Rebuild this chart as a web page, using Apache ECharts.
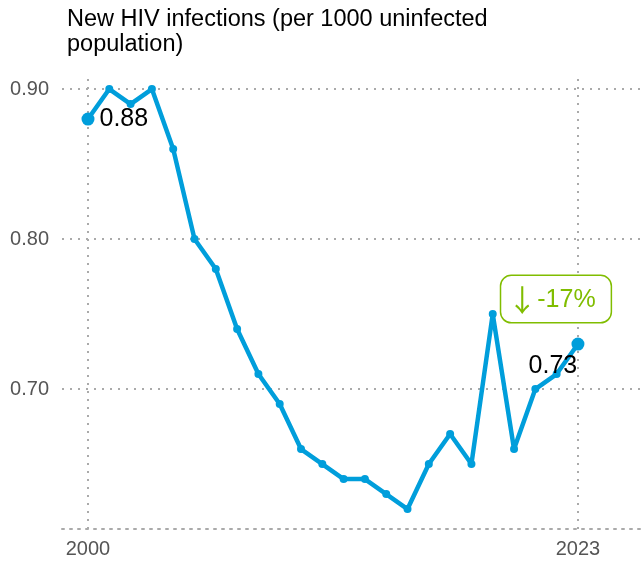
<!DOCTYPE html>
<html><head><meta charset="utf-8">
<script src="https://cdn.jsdelivr.net/npm/echarts@6/dist/echarts.min.js"></script>
<style>html,body{margin:0;padding:0;background:#fff}#c{width:641px;height:563px}</style>
</head><body><div id="c"></div>
<script>
const years = [2000,2001,2002,2003,2004,2005,2006,2007,2008,2009,2010,2011,2012,2013,2014,2015,2016,2017,2018,2019,2020,2021,2022,2023];
const values = [0.88,0.90,0.89,0.90,0.86,0.80,0.78,0.74,0.71,0.69,0.66,0.65,0.64,0.64,0.63,0.62,0.65,0.67,0.65,0.75,0.66,0.70,0.71,0.73];
const yTicks = [0.70,0.80,0.90];
const xTicks = [2000,2023];
const titleText = 'New HIV infections (per 1000 uninfected\npopulation)';
const changeArrow = '↓';
const changeText = '-17%';

const font = 'Liberation Sans, Arial, sans-serif';
const blue = '#009EDB';
const green = '#80BD00';
const dotted = {color:'#aaaaaa', width:2, type:[2,6]};
const last = years.length-1;

const pts = years.map((y,i)=>{
  const d = {value:[y, values[i]]};
  if (i===0) {
    d.symbolSize = 13;
    d.label = {show:true, position:'right', distance:5, formatter:values[i].toFixed(2), fontSize:25, color:'#000', fontFamily:font};
  }
  if (i===last) {
    d.symbolSize = 13;
    d.label = {show:true, position:'inside', offset:[-25,22], formatter:values[i].toFixed(2), fontSize:25, color:'#000', fontFamily:font};
  }
  return d;
});

const chart = echarts.init(document.getElementById('c'), null, {renderer:'canvas'});
chart.setOption({
  animation:false,
  title:{text:titleText, left:62, top:2, textStyle:{fontSize:23.5, fontWeight:'normal', color:'#000', fontFamily:font, lineHeight:25}},
  grid:{left:62, right:0, top:73, bottom:34},
  xAxis:{type:'value', min:1998.78, max:2025.96,
    axisLine:{show:true, lineStyle:dotted}, axisTick:{show:false}, splitLine:{show:false},
    axisLabel:{customValues:xTicks, formatter:v=>String(v), fontSize:20, color:'#555', fontFamily:font, margin:10}},
  yAxis:{type:'value', min:0.6067, max:0.9107,
    axisLine:{show:false}, axisTick:{show:false}, splitLine:{show:false},
    axisLabel:{customValues:yTicks, formatter:v=>v.toFixed(2), fontSize:20, color:'#555', fontFamily:font, margin:13}},
  series:[{
    type:'line', data:[], z:1, silent:true,
    markLine:{silent:true, symbol:'none', label:{show:false}, lineStyle:dotted, z:1,
      data: yTicks.map(v=>({yAxis:v})).concat(xTicks.map(v=>({xAxis:v})))}
  },{
    type:'line', data:years.map((y,i)=>[y, values[i]]), symbol:'none', z:2,
    lineStyle:{color:blue, width:4.5}
  },{
    type:'scatter', data:pts, symbol:'circle', symbolSize:8, z:3,
    itemStyle:{color:blue, borderColor:blue, borderWidth:0, opacity:1},
    emphasis:{disabled:true},
    markPoint:{symbol:'circle', symbolSize:0,
      data:[{coord:[years[last], values[last]], value:changeText,
        label:{show:true, formatter:'{a|'+changeArrow+'}{t|'+changeText+'}', offset:[-22,-45],
          rich:{
            a:{fontSize:30, color:green, fontFamily:'Noto Sans CJK SC, Noto Sans, sans-serif', lineHeight:28, width:30, align:'left'},
            t:{fontSize:25, color:green, fontFamily:font, lineHeight:28}
          },
          borderColor:green, borderWidth:1.5, borderRadius:10, padding:[10,15,8,6], backgroundColor:'#fff'}}]}
  }]
});
</script></body></html>
